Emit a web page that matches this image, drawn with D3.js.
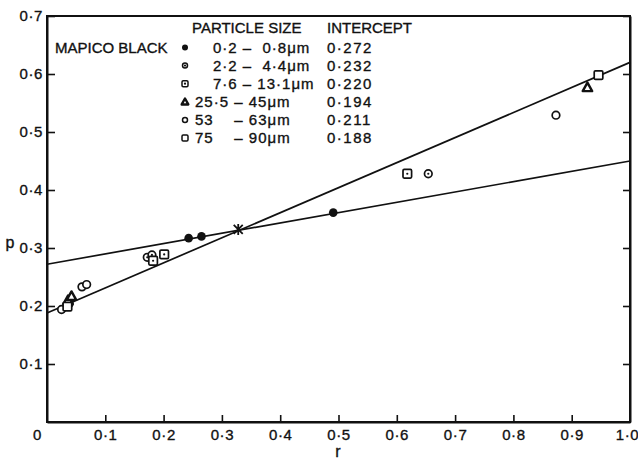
<!DOCTYPE html>
<html>
<head>
<meta charset="utf-8">
<script src="https://cdn.jsdelivr.net/npm/d3@7"></script>
<style>
  html, body { margin: 0; padding: 0; background: #fff; }
  svg { display: block; }
  text { font-family: "Liberation Sans", Arial, sans-serif; fill: #111; stroke: #111; stroke-width: 0.35px; }
</style>
</head>
<body>
<svg id="chart" width="638" height="461"></svg>
<script>
// ---------- data ----------
const xTickValues = [0, 0.1, 0.2, 0.3, 0.4, 0.5, 0.6, 0.7, 0.8, 0.9, 1.0];
const xTickLabels = ["0", "0·1", "0·2", "0·3", "0·4", "0·5", "0·6", "0·7", "0·8", "0·9", "1·0"];
const yTickValues = [0.1, 0.2, 0.3, 0.4, 0.5, 0.6, 0.7];
const yTickLabels = ["0·1", "0·2", "0·3", "0·4", "0·5", "0·6", "0·7"];

const sizeLabels = ["0·2 –  0·8μm", "2·2 –  4·4μm", "7·6 – 13·1μm", "25·5 – 45μm", "53    – 63μm", "75    – 90μm"];
const intercepts = ["0·272", "0·232", "0·220", "0·194", "0·211", "0·188"];
const markerTypes = ["filled", "dotCircle", "dotSquare", "triangle", "circle", "square"];

// points per particle size (r, p)
const r_02_08 = [0.243, 0.265, 0.491];
const p_02_08 = [0.317, 0.320, 0.361];
const r_22_44 = [0.038, 0.172, 0.180, 0.654];
const p_22_44 = [0.204, 0.284, 0.288, 0.428];
const r_76_131 = [0.182, 0.201, 0.618];
const p_76_131 = [0.278, 0.289, 0.428];
const r_255_45 = [0.036, 0.042, 0.927];
const p_255_45 = [0.210, 0.217, 0.577];
const r_53_63 = [0.025, 0.060, 0.068, 0.873];
const p_53_63 = [0.194, 0.233, 0.237, 0.529];
const r_75_90 = [0.035, 0.946];
const p_75_90 = [0.199, 0.598];

const seriesR = [r_02_08, r_22_44, r_76_131, r_255_45, r_53_63, r_75_90];
const seriesP = [p_02_08, p_22_44, p_76_131, p_255_45, p_53_63, p_75_90];

// fitted lines (endpoints at r = 0 and r = 1)
const lineR = [0, 1];
const lineFineP = [0.272, 0.450];
const lineCoarseP = [0.188, 0.620];

// intersection (star)
const starR = [0.328];
const starP = [0.332];

// ---------- drawing ----------
const svg = d3.select("#chart");
const x = d3.scaleLinear().domain([0, 1]).range([47, 630]);
const y = d3.scaleLinear().domain([0, 0.7]).range([422, 16]);

// frame
svg.append("rect")
  .attr("x", x(0)).attr("y", y(0.7))
  .attr("width", x(1) - x(0)).attr("height", y(0) - y(0.7))
  .attr("fill", "none").attr("stroke", "#111").attr("stroke-width", 2);

// left axis
const gl = svg.append("g").attr("transform", `translate(${x(0)},0)`)
  .call(d3.axisLeft(y).tickValues(yTickValues).tickSize(-8).tickSizeOuter(0).tickPadding(4)
    .tickFormat((d, i) => yTickLabels[i]));
// bottom axis
const gb = svg.append("g").attr("transform", `translate(0,${y(0)})`)
  .call(d3.axisBottom(x).tickValues(xTickValues).tickSize(-7).tickSizeOuter(0).tickPadding(7)
    .tickFormat((d, i) => xTickLabels[i]));
// right axis ticks
const gr = svg.append("g").attr("transform", `translate(${x(1)},0)`)
  .call(d3.axisRight(y).tickValues(yTickValues).tickSize(-7).tickSizeOuter(0).tickFormat(""));

[gl, gb, gr].forEach(g => {
  g.select(".domain").attr("stroke", "#111").attr("stroke-width", 2);
  g.selectAll(".tick line").attr("stroke", "#111").attr("stroke-width", 1.6);
  g.selectAll(".tick text").attr("font-size", 15).attr("letter-spacing", "0.6px")
    .attr("font-family", "Liberation Sans, Arial, sans-serif").attr("fill", "#111");
});
gb.selectAll(".tick").filter(d => d === 0).select("line").remove();
gb.selectAll(".tick").filter(d => d === 0).select("text").attr("x", -10);
gb.selectAll(".tick").filter(d => d === 1).select("line").remove();
gb.selectAll(".tick").filter(d => d === 1).select("text").attr("x", -3);

// axis titles
svg.append("text").attr("x", 10).attr("y", 248).attr("text-anchor", "middle")
  .attr("font-size", 16).text("p");
svg.append("text").attr("x", 338).attr("y", 457).attr("text-anchor", "middle")
  .attr("font-size", 16).text("r");

// fitted lines
const line = d3.line().x(d => x(d[0])).y(d => y(d[1]));
[lineFineP, lineCoarseP].forEach(ps => {
  svg.append("path").datum(lineR.map((r, i) => [r, ps[i]]))
    .attr("d", line).attr("fill", "none").attr("stroke", "#111").attr("stroke-width", 1.7);
});

// markers
function drawMarker(g, type, cx, cy, s) {
  const sw = s > 3.5 ? 1.7 : 1.5;
  if (type === "filled") {
    g.append("circle").attr("cx", cx).attr("cy", cy).attr("r", s)
      .attr("fill", "#111");
  } else if (type === "circle" || type === "dotCircle") {
    g.append("circle").attr("cx", cx).attr("cy", cy).attr("r", s - 0.5)
      .attr("fill", "#fff").attr("stroke", "#111").attr("stroke-width", sw);
    if (type === "dotCircle") g.append("circle").attr("cx", cx).attr("cy", cy).attr("r", 1.1).attr("fill", "#111");
  } else if (type === "square" || type === "dotSquare") {
    const h = s;
    g.append("rect").attr("x", cx - h).attr("y", cy - h).attr("width", 2 * h).attr("height", 2 * h)
      .attr("rx", 1.2)
      .attr("fill", "#fff").attr("stroke", "#111").attr("stroke-width", sw);
    if (type === "dotSquare") g.append("circle").attr("cx", cx).attr("cy", cy).attr("r", 1.1).attr("fill", "#111");
  } else if (type === "triangle") {
    const h = s * 1.1;
    g.append("path")
      .attr("d", `M${cx},${cy - h} L${cx + h},${cy + h * 0.8} L${cx - h},${cy + h * 0.8} Z`)
      .attr("fill", "#fff").attr("stroke", "#111").attr("stroke-width", 2.4).attr("stroke-linejoin", "round");
  }
}

const gm = svg.append("g");
seriesR.forEach((rs, si) => {
  rs.forEach((r, i) => drawMarker(gm, markerTypes[si], x(r), y(seriesP[si][i]), 4.3));
});

// star at intersection
starR.forEach((r, i) => {
  const cx = x(r), cy = y(starP[i]), a = 4.5;
  svg.append("path")
    .attr("d", `M${cx - a},${cy - a}L${cx + a},${cy + a}M${cx - a},${cy + a}L${cx + a},${cy - a}M${cx},${cy - a - 1}L${cx},${cy + a + 1}`)
    .attr("stroke", "#111").attr("stroke-width", 1.8).attr("fill", "none");
});

// legend
const lg = svg.append("g").attr("font-size", 15);
lg.append("text").attr("x", 55).attr("y", 52.5).text("MAPICO BLACK");
lg.append("text").attr("x", 192).attr("y", 33).text("PARTICLE SIZE");
lg.append("text").attr("x", 327).attr("y", 33).text("INTERCEPT");
sizeLabels.forEach((lab, i) => {
  const by = 52.5 + i * 18.1;
  drawMarker(lg, markerTypes[i], 185, by - 5, 3);
  lg.append("text").attr("x", i < 3 ? 213 : 195).attr("y", by)
    .attr("letter-spacing", "1px")
    .attr("xml:space", "preserve").style("white-space", "pre").text(lab);
  lg.append("text").attr("x", 327).attr("y", by).attr("letter-spacing", "1.5px").text(intercepts[i]);
});
</script>
</body>
</html>
